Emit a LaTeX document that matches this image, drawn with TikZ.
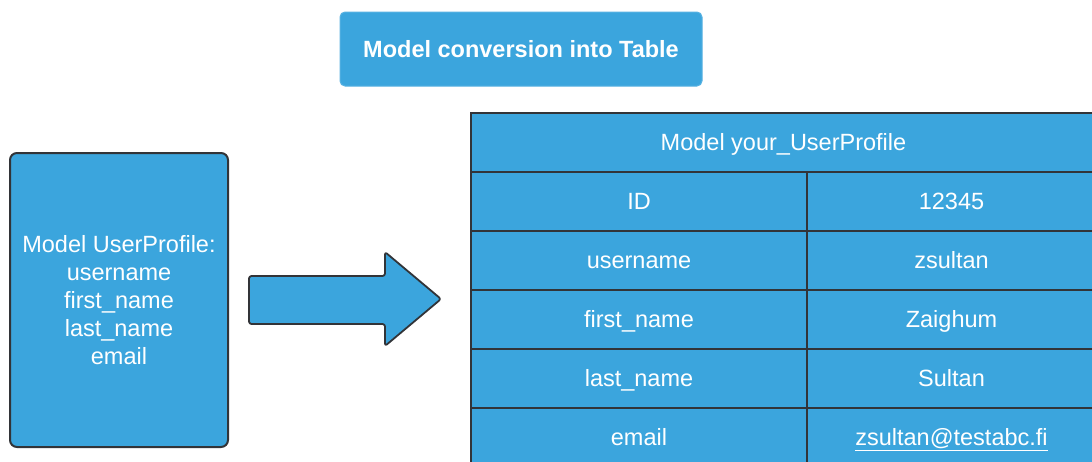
\documentclass[tikz,border=0pt]{standalone}
\usepackage{fontspec}
\setmainfont{Liberation Sans}
\definecolor{boxblue}{RGB}{59,165,221}
\definecolor{edge}{RGB}{50,52,56}
\begin{document}
\begin{tikzpicture}[x=1pt,y=-1pt,
  txt/.style={text=white,font=\fontsize{23.5}{28}\selectfont},
  titlebox/.style={txt,font=\fontsize{23.5}{28}\selectfont\bfseries,fill=boxblue,draw=boxblue!85!white,line width=1pt,rounded corners=5pt,minimum width=362pt,minimum height=74pt,inner sep=0pt,text height=19pt,text depth=2.2pt},
  modelbox/.style={txt,fill=boxblue,draw=edge,line width=2pt,rounded corners=7pt,minimum width=218pt,minimum height=294pt,inner sep=0pt,align=center},
  arrowbody/.style={fill=boxblue,draw=edge,line width=1.8pt,rounded corners=2.5pt,line join=round},
  cell/.style={txt,fill=boxblue,draw=edge,line width=1.8pt,minimum height=59pt,inner sep=0pt,text height=19pt,text depth=2.2pt},
  keycell/.style={cell,minimum width=336pt},
  valcell/.style={cell,minimum width=289pt},
  hdrcell/.style={cell,minimum width=625pt}]
\useasboundingbox (0,0) rectangle (1092,461);
\clip (0,0) rectangle (1092,461);
\fill[white] (0,0) rectangle (1092,461);
% title
\node[titlebox] (title) at (521,49) {Model conversion into Table};
% model box
\node[modelbox] (model) at (119,300) {Model UserProfile:\\username\\first\_name\\last\_name\\email};
% arrow shape
\draw[arrowbody] (249,276) -- (385,276) -- (385,252) -- (441,299) -- (385,346) -- (385,324) -- (249,324) -- cycle;
% table
\node[hdrcell] (hdr) at (783.5,142.5) {Model your\_UserProfile};
\node[keycell] (k1) at (639,201.5) {ID};
\node[valcell] (v1) at (951.5,201.5) {12345};
\node[keycell] (k2) at (639,260.5) {username};
\node[valcell] (v2) at (951.5,260.5) {zsultan};
\node[keycell] (k3) at (639,319.5) {first\_name};
\node[valcell] (v3) at (951.5,319.5) {Zaighum};
\node[keycell] (k4) at (639,378.5) {last\_name};
\node[valcell] (v4) at (951.5,378.5) {Sultan};
\node[keycell] (k5) at (639,437.5) {email};
\node[valcell] (v5) at (951.5,437.5) {\underline{zsultan@testabc.fi}};
\end{tikzpicture}
\end{document}
